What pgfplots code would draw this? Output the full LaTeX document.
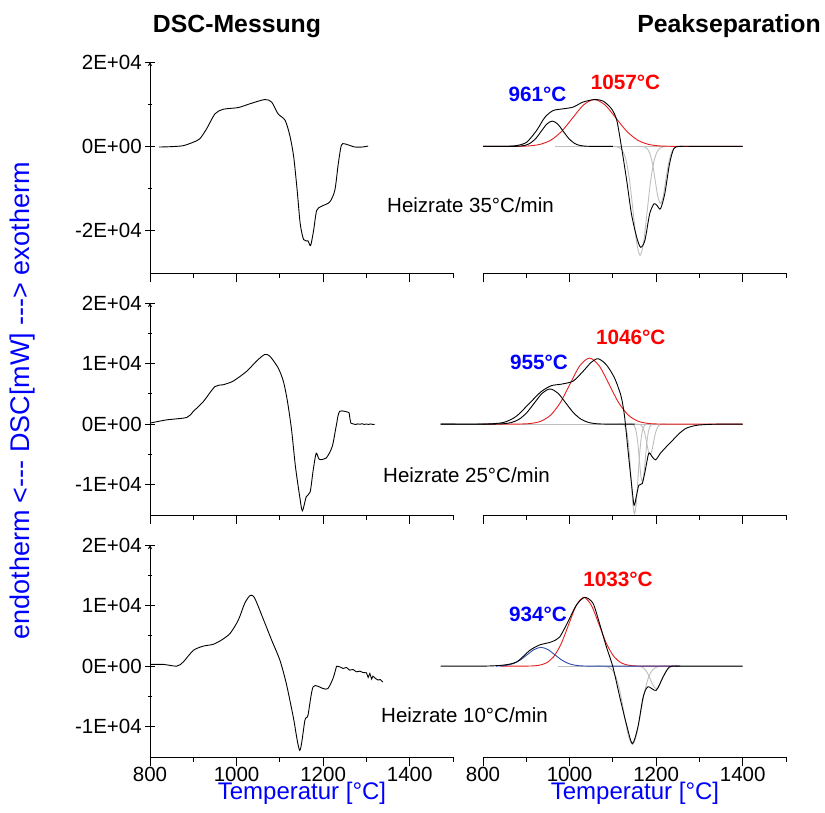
\documentclass[border=0pt]{standalone}
\usepackage{fontspec}
\setmainfont{Liberation Sans}
\usepackage{pgfplots}
\pgfplotsset{compat=1.18}

\definecolor{fitred}{RGB}{228,30,30}
\definecolor{fitblue}{RGB}{45,75,170}
\definecolor{fitgray}{RGB}{190,190,190}
\definecolor{labblue}{RGB}{0,0,255}
\definecolor{labred}{RGB}{255,0,0}

\newcommand{\ticksize}{\fontsize{20.5}{24}\selectfont}
\newcommand{\peaksize}{\fontsize{20.7}{24}\selectfont\bfseries}

\pgfplotsset{
  dscbase/.style={
    scale only axis, width=303pt,
    xmin=800, xmax=1500, clip=false,
    axis x line=bottom,
    axis line style={-, black, line width=0.9pt},
    xtick={800,1000,1200,1400}, minor xtick={900,1100,1300,1500},
    tick align=outside,
    major tick length=9.5pt, minor tick length=5pt,
    every tick/.append style={black, line width=0.9pt},
    scaled x ticks=false, scaled y ticks=false,
    ticklabel style={font=\ticksize},
    xticklabel style={yshift=3pt, text depth=0pt},
    xticklabels={},
    every axis plot/.append style={line width=0.9pt, mark=none},
  },
  leftcol/.style={dscbase, axis y line=left},
  rightcol/.style={dscbase, axis y line=none, ytick=\empty, minor ytick=\empty},
  rowA/.style={height=211pt, ymin=-30000, ymax=20000,
    ytick={-20000,0,20000}, minor ytick={-10000,10000},
    yticklabels={-2E+04,0E+00,2E+04}},
  rowB/.style={height=212pt, ymin=-15000, ymax=20000,
    ytick={-10000,0,10000,20000}, minor ytick={-5000,5000,15000},
    yticklabels={-1E+04,0E+00,1E+04,2E+04}},
  withxlabels/.style={xticklabels={800,1000,1200,1400}},
  meas/.style={black, smooth, tension=0.45},
  comp/.style={smooth, tension=0.5},
}

\begin{document}
\begin{tikzpicture}[x=1pt,y=1pt]
\useasboundingbox (0,0) rectangle (825,813);

% ---------- Heizrate 35 K/min ----------
\begin{axis}[rowA, leftcol, at={(150pt,540pt)}, anchor=south west]
\addplot[meas] coordinates {
 (821,-150) (850,-60) (877,170) (900,1000) (915,1800) (931,4200) (950,7700)
 (969,8800) (1004,9200) (1031,10100) (1065,11100) (1081,10500) (1096,7700)
 (1112,6200) (1123,2600) (1132,-2500) (1140,-10400) (1147,-18300) (1155,-22100)
 (1165,-22400) (1171,-23500) (1178,-19900) (1185,-15200) (1196,-14200)
 (1215,-13200) (1227,-10400) (1235,-4100) (1242,240) (1250,600) (1273,-150)
 (1290,-150) (1304,80)};
\end{axis}
\begin{axis}[rowA, rightcol, at={(483pt,540pt)}, anchor=south west]
% baseline of the endothermic components
\addplot[fitgray] coordinates {(966,0) (1400,0)};
\addplot[fitgray, comp] coordinates {
 (1091,0) (1099,-8) (1107,-57) (1115,-286) (1123,-1133) (1131,-3491) (1139,-8377)
 (1147,-15648) (1155,-22768) (1163,-25800) (1171,-22768) (1179,-15648)
 (1187,-8377) (1195,-3491) (1203,-1133) (1211,-286) (1219,-57) (1227,-8) (1235,0)};
\addplot[fitgray, comp] coordinates {
 (1156,0) (1162,-4) (1168,-30) (1174,-150) (1180,-593) (1186,-1827) (1192,-4383)
 (1198,-8188) (1204,-11914) (1210,-13500) (1216,-11914) (1222,-8188)
 (1228,-4383) (1234,-1827) (1240,-593) (1246,-150) (1252,-30) (1258,-4) (1264,0)};
% exothermic components
\addplot[fitred, comp] coordinates {
 (800,0) (832,0) (857,3) (882,24) (907,123) (932,487) (957,1502) (982,3604)
 (1007,6732) (1032,9796) (1057,11100) (1082,9796) (1107,6732) (1132,3604)
 (1157,1502) (1182,487) (1207,123) (1232,24) (1257,3) (1282,0) (1400,0)};
\addplot[black, comp] coordinates {
 (800,0) (847,0) (860,2) (872.5,13) (885,67) (897.5,263) (910,812) (922.5,1948)
 (935,3639) (947.5,5295) (960,6000) (972.5,5295) (985,3639) (997.5,1948)
 (1010,812) (1022.5,263) (1035,67) (1047.5,13) (1060,2) (1073,0) (1100,0)};
% measured signal
\addplot[meas] coordinates {
 (800,0) (850,0) (878,200) (901,1000) (924,3800) (943,6900) (962,8500)
 (985,8900) (1008,9300) (1031,10500) (1058,11100) (1078,10700) (1097,8900)
 (1109,6200) (1120,-200) (1132,-8100) (1143,-16000) (1155,-21500)
 (1164,-23900) (1174,-22300) (1185,-16000) (1195,-13600) (1202,-14000)
 (1210,-14800) (1220,-11200) (1231,-4100) (1241,-500) (1255,0) (1300,0) (1400,0)};
\end{axis}

% ---------- Heizrate 25 K/min ----------
\begin{axis}[rowB, leftcol, at={(150pt,298pt)}, anchor=south west]
\addplot[meas] coordinates {
 (800,170) (838,700) (885,1100) (900,2100) (923,3700) (950,6200) (969,6500)
 (992,7100) (1023,8700) (1046,10400) (1065,11500) (1077,11200) (1096,9300)
 (1108,7100) (1117,4000) (1127,-900) (1136,-7000) (1146,-12000) (1152,-14300)
 (1161,-12000) (1170,-11200) (1177,-7600) (1184,-4800) (1191,-5800)
 (1207,-5600) (1221,-3700) (1230,-400) (1238,2100) (1260,1900)};
\addplot[black] coordinates {
 (1260,1900) (1262,900) (1264,170) (1270,20) (1275,-60) (1280,40) (1285,-20)
 (1290,60) (1295,-40) (1300,20) (1305,-50) (1310,30) (1315,-60) (1319,-30)};
\end{axis}
\begin{axis}[rowB, rightcol, at={(483pt,298pt)}, anchor=south west]
\addplot[fitgray] coordinates {(880,0) (1400,0)};
\addplot[fitgray, comp] coordinates {
 (1114,0) (1118,-4) (1122,-33) (1126,-164) (1130,-650) (1134,-2002) (1138,-4806)
 (1142,-8976) (1146,-13061) (1150,-14800) (1154,-13061) (1158,-8976)
 (1162,-4806) (1166,-2002) (1170,-650) (1174,-164) (1178,-33) (1182,-4) (1186,0)};
\addplot[fitgray, comp] coordinates {
 (1136,0) (1140,-3) (1143.5,-21) (1147,-105) (1150.5,-417) (1154,-1285)
 (1157.5,-3085) (1161,-5762) (1164.5,-8384) (1168,-9500) (1171.5,-8384)
 (1175,-5762) (1178.5,-3085) (1182,-1285) (1185.5,-417) (1189,-105)
 (1192.5,-21) (1196,-3) (1200,0)};
\addplot[fitgray, comp] coordinates {
 (1150,0) (1154,-2) (1158,-11) (1162,-56) (1166,-220) (1170,-677) (1174,-1624)
 (1178,-3033) (1182,-4413) (1186,-5000) (1190,-4413) (1194,-3033) (1198,-1624)
 (1202,-677) (1206,-220) (1210,-56) (1214,-11) (1218,-2) (1222,0)};
\addplot[fitred, comp] coordinates {
 (800,0) (843,0) (866,3) (888.5,24) (911,121) (933.5,479) (956,1475)
 (978.5,3539) (1001,6611) (1023.5,9619) (1046,10900) (1068.5,9619)
 (1091,6611) (1113.5,3539) (1136,1475) (1158.5,479) (1181,121) (1203.5,24)
 (1226,3) (1249,0) (1400,0)};
\addplot[black, comp] coordinates {
 (702,0) (793,0) (811,2) (829,13) (847,64) (865,255) (883,785) (901,1883)
 (919,3518) (937,5119) (955,5800) (973,5119) (991,3518) (1009,1883)
 (1027,785) (1045,255) (1063,64) (1081,13) (1099,2) (1117,0) (1150,0)};
\addplot[meas] coordinates {
 (702,0) (800,0) (847,270) (877,1300) (908,3500) (935,5400) (958,6350)
 (981,6600) (1008,7100) (1031,8700) (1050,10200) (1066,10800) (1085,9800)
 (1104,7600) (1119,4600) (1127,1300) (1135,-4300) (1143,-9800) (1149,-13400)
 (1154,-12000) (1160,-10100) (1168,-9800) (1175,-7600) (1183,-4800)
 (1191,-5400) (1199,-5900) (1210,-4800) (1224,-3700) (1239,-2600)
 (1254,-1500) (1270,-660) (1293,-200) (1320,-50) (1350,0) (1400,0)};
\end{axis}

% ---------- Heizrate 10 K/min ----------
\begin{axis}[rowB, leftcol, withxlabels, at={(150pt,56pt)}, anchor=south west]
\addplot[meas] coordinates {
 (800,280) (831,280) (862,0) (877,700) (900,2600) (923,3300) (946,3600)
 (965,4300) (985,5400) (1004,7600) (1019,10400) (1032,11700) (1042,11200)
 (1061,7900) (1081,4300) (1100,1000) (1115,-2900) (1131,-8400) (1146,-13900)
 (1158,-8900) (1165,-8100) (1177,-3400) (1200,-3700) (1211,-3700)
 (1223,-2000) (1231,0)};
\addplot[black] coordinates {
 (1231,0) (1238,-110) (1246,-380) (1254,-220) (1261,-660) (1269,-550)
 (1277,-940) (1285,-830) (1292,-1050) (1300,-1100) (1304,-1870) (1308,-1210)
 (1312,-2150) (1315,-1650) (1321,-2040) (1327,-2300) (1332,-2200) (1338,-2640)};
\end{axis}
\begin{axis}[rowB, rightcol, withxlabels, at={(483pt,56pt)}, anchor=south west]
\addplot[fitgray] coordinates {(973,0) (1400,0)};
\addplot[fitgray, comp] coordinates {
 (1060,0) (1069,-4) (1078.5,-28) (1088,-143) (1097.5,-566) (1107,-1745)
 (1116.5,-4189) (1126,-7824) (1135.5,-11384) (1145,-12900) (1154.5,-11384)
 (1164,-7824) (1173.5,-4189) (1183,-1745) (1192.5,-566) (1202,-143)
 (1211.5,-28) (1221,-4) (1230,0)};
\addplot[fitgray, comp] coordinates {
 (1142,0) (1148,-1) (1154.5,-8) (1161,-41) (1167.5,-162) (1174,-501)
 (1180.5,-1201) (1187,-2244) (1193.5,-3265) (1200,-3700) (1206.5,-3265)
 (1213,-2244) (1219.5,-1201) (1226,-501) (1232.5,-162) (1239,-41)
 (1245.5,-8) (1252,-1) (1258,0)};
\addplot[fitred, comp] coordinates {
 (840,0) (875,0) (893,3) (910.5,25) (928,126) (945.5,498) (963,1536)
 (980.5,3685) (998,6884) (1015.5,10016) (1033,11350) (1050.5,10016)
 (1068,6884) (1085.5,3685) (1103,1536) (1120.5,498) (1138,126) (1155.5,25)
 (1173,3) (1190,0) (1250,0)};
\addplot[fitblue, comp] coordinates {
 (830,10) (838,34) (854,136) (870,419) (886,1007) (902,1880) (918,2736)
 (934,3100) (950,2736) (966,1880) (982,1007) (998,419) (1014,136) (1030,34)
 (1046,7) (1062,1) (1078,0) (1255,0)};
\addplot[meas] coordinates {
 (702,0) (800,0) (847,170) (878,700) (908,2600) (931,3500) (958,4000)
 (977,4800) (996,7300) (1016,10100) (1035,11350) (1054,10400) (1069,7100)
 (1085,3200) (1100,-100) (1116,-5100) (1131,-9500) (1145,-12800)
 (1158,-10000) (1170,-5100) (1181,-3400) (1200,-4000) (1216,-1800)
 (1231,-100) (1251,0) (1300,0) (1400,0)};
\end{axis}

% ---------- texts ----------
\node[font=\fontsize{24.8}{28}\selectfont\bfseries, anchor=base, inner sep=0] at (237,780) {DSC-Messung};
\node[font=\fontsize{24.8}{28}\selectfont\bfseries, anchor=base, inner sep=0] at (729,780) {Peakseparation};

\node[font=\fontsize{27}{30}\selectfont, text=labblue, rotate=90, inner sep=0] at (23,412)
  {endotherm <-{}-{}- DSC[mW] -{}-{}-> exotherm};
\node[font=\fontsize{24}{28}\selectfont, text=labblue, anchor=base, inner sep=0] at (302,13) {Temperatur [°C]};
\node[font=\fontsize{24}{28}\selectfont, text=labblue, anchor=base, inner sep=0] at (635,13) {Temperatur [°C]};

\node[font=\ticksize, anchor=base west, inner sep=0] at (387,600) {Heizrate 35°C/min};
\node[font=\ticksize, anchor=base west, inner sep=0] at (383,330) {Heizrate 25°C/min};
\node[font=\ticksize, anchor=base west, inner sep=0] at (381,90) {Heizrate 10°C/min};

\node[font=\peaksize, text=labblue, anchor=base, inner sep=0] at (537.5,711) {961°C};
\node[font=\peaksize, text=labred, anchor=base, inner sep=0] at (625.5,723) {1057°C};
\node[font=\peaksize, text=labblue, anchor=base, inner sep=0] at (539,443) {955°C};
\node[font=\peaksize, text=labred, anchor=base, inner sep=0] at (630.7,468) {1046°C};
\node[font=\peaksize, text=labblue, anchor=base, inner sep=0] at (538,191.3) {934°C};
\node[font=\peaksize, text=labred, anchor=base, inner sep=0] at (618,226.3) {1033°C};
\end{tikzpicture}
\end{document}
